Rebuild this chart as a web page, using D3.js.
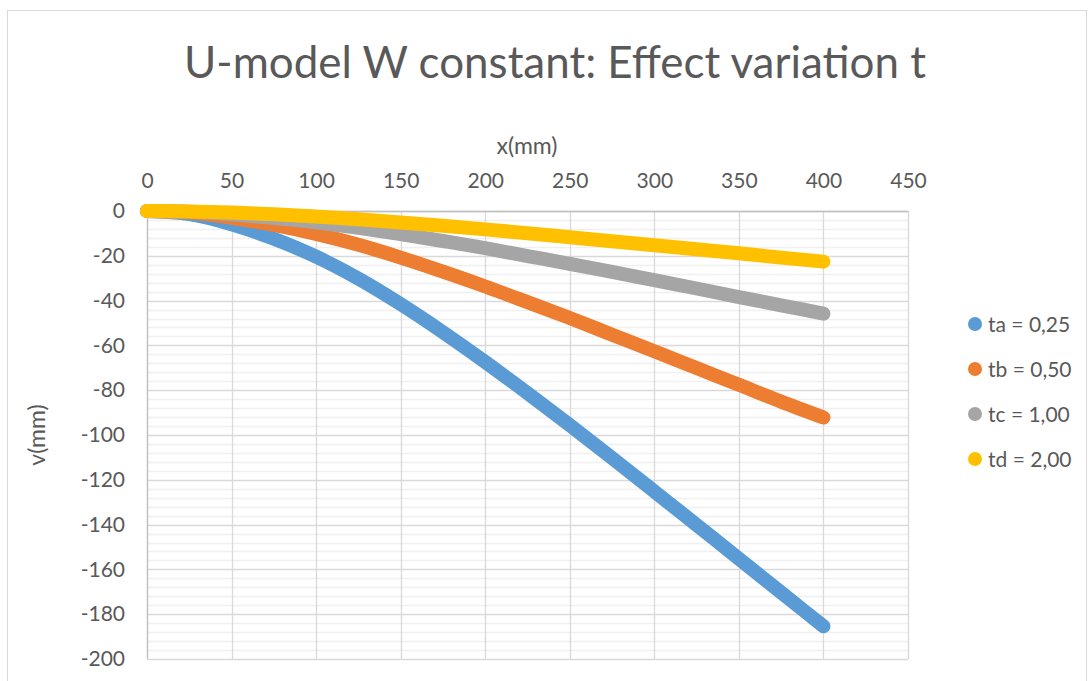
<!DOCTYPE html>
<html>
<head>
<meta charset="utf-8">
<script src="https://cdn.jsdelivr.net/npm/d3@7"></script>
<style>
  html, body { margin: 0; padding: 0; background: #ffffff; }
  svg { display: block; font-family: Lato, "Open Sans", sans-serif; }
</style>
</head>
<body>
<svg id="chart" width="1088" height="681"></svg>
<script>
// Deflection v along the member for four thickness values
const xValues = [0, 25, 50, 75, 100, 125, 150, 175, 200, 225, 250, 275, 300, 325, 350, 375, 400];
const taValues = [0, -1.4, -5.9, -12.4, -20.4, -30.2, -41.6, -54.1, -67.4, -81.3, -95.6, -110.3, -125.2, -140.2, -155.2, -170.3, -185.4];
const tbValues = [0, -0.7, -3.0, -6.2, -10.2, -15.1, -20.8, -27.1, -33.7, -40.7, -47.8, -55.2, -62.6, -70.1, -77.6, -85.1, -92.2];
const tcValues = [0, -0.3, -1.5, -3.1, -5.0, -7.5, -10.3, -13.4, -16.6, -20.1, -23.6, -27.2, -30.9, -34.6, -38.4, -42.1, -45.8];
const tdValues = [0, -0.2, -0.7, -1.5, -2.5, -3.7, -5.1, -6.6, -8.2, -9.9, -11.7, -13.5, -15.3, -17.1, -18.9, -20.8, -22.6];
const seriesNames = ["ta = 0,25", "tb = 0,50", "tc = 1,00", "td = 2,00"];
const seriesColors = ["#5B9BD5", "#ED7D31", "#A5A5A5", "#FFC000"];
const xTicks = [0, 50, 100, 150, 200, 250, 300, 350, 400, 450];
const yTicks = [0, -20, -40, -60, -80, -100, -120, -140, -160, -180, -200];
const titleText = "U-model W constant: Effect variation t";
const xTitle = "x(mm)";
const yTitle = "v(mm)";

const seriesValues = [taValues, tbValues, tcValues, tdValues];
const series = seriesNames.map((name, i) => ({
  name,
  color: seriesColors[i],
  points: xValues.map((x, j) => ({ x, v: seriesValues[i][j] }))
}));

const svg = d3.select("#chart");
const textColor = "#595959";

// chart frame
svg.append("rect")
  .attr("x", 7.5).attr("y", 10.5)
  .attr("width", 1079).attr("height", 700)
  .attr("fill", "#ffffff")
  .attr("stroke", "#d9d9d9").attr("stroke-width", 1);

const plot = { left: 147, right: 908, top: 211, bottom: 659 };
const x = d3.scaleLinear().domain([0, 450]).range([plot.left, plot.right]);
const y = d3.scaleLinear().domain([0, -200]).range([plot.top, plot.bottom]);

// minor horizontal gridlines every 4
const minorY = d3.range(0, -201, -4).filter(v => v % 20 !== 0);
svg.append("g").selectAll("line").data(minorY).join("line")
  .attr("x1", plot.left).attr("x2", plot.right)
  .attr("y1", d => Math.round(y(d)) + 0.5).attr("y2", d => Math.round(y(d)) + 0.5)
  .attr("stroke", "#f0f0f0").attr("stroke-width", 1.3);

// major gridlines
svg.append("g").selectAll("line").data(yTicks).join("line")
  .attr("x1", plot.left).attr("x2", plot.right)
  .attr("y1", d => Math.round(y(d)) + 0.5).attr("y2", d => Math.round(y(d)) + 0.5)
  .attr("stroke", "#d9d9d9").attr("stroke-width", 1.3);
svg.append("g").selectAll("line").data(xTicks).join("line")
  .attr("y1", plot.top).attr("y2", plot.bottom)
  .attr("x1", d => Math.round(x(d)) + 0.5).attr("x2", d => Math.round(x(d)) + 0.5)
  .attr("stroke", "#d9d9d9").attr("stroke-width", 1.3);

// axis lines (x axis sits at v = 0, y axis at x = 0)
svg.append("line")
  .attr("x1", plot.left).attr("x2", plot.right)
  .attr("y1", Math.round(y(0)) + 0.5).attr("y2", Math.round(y(0)) + 0.5)
  .attr("stroke", "#bfbfbf").attr("stroke-width", 1.3);
svg.append("line")
  .attr("y1", plot.top).attr("y2", plot.bottom)
  .attr("x1", Math.round(x(0)) + 0.5).attr("x2", Math.round(x(0)) + 0.5)
  .attr("stroke", "#bfbfbf").attr("stroke-width", 1.3);

// tick labels
const xAxis = d3.axisTop(x).tickValues(xTicks).tickSize(0).tickPadding(23);
const gx = svg.append("g").attr("transform", `translate(0,${plot.top})`).call(xAxis);
gx.select(".domain").remove();
gx.selectAll("text").attr("fill", textColor)
  .style("font-family", "Lato, 'Open Sans', sans-serif").style("font-size", "21px");

const yAxis = d3.axisLeft(y).tickValues(yTicks).tickSize(0).tickPadding(22)
  .tickFormat(d => d < 0 ? "-" + Math.abs(d) : String(d));
const gy = svg.append("g").attr("transform", `translate(${plot.left},0)`).call(yAxis);
gy.select(".domain").remove();
gy.selectAll("text").attr("fill", textColor)
  .style("font-family", "Lato, 'Open Sans', sans-serif").style("font-size", "21px");

// series: densely marked scatter drawn as thick rounded lines
const line = d3.line().x(d => x(d.x)).y(d => y(d.v)).curve(d3.curveMonotoneX);
svg.append("g").selectAll("path").data(series).join("path")
  .attr("d", d => line(d.points))
  .attr("fill", "none")
  .attr("stroke", d => d.color)
  .attr("stroke-width", 14)
  .attr("stroke-linecap", "round")
  .attr("stroke-linejoin", "round");

// titles
const title = svg.append("text")
  .attr("x", 555).attr("y", 78)
  .attr("text-anchor", "middle")
  .attr("fill", textColor)
  .style("font-size", "42px")
  .text(titleText);
const tw = title.node().getComputedTextLength();
title.style("font-size", (42 * 742 / tw).toFixed(2) + "px");

svg.append("text")
  .attr("x", 527).attr("y", 154)
  .attr("text-anchor", "middle")
  .attr("fill", textColor)
  .style("font-size", "23px")
  .text(xTitle);

svg.append("text")
  .attr("transform", `translate(45,${(plot.top + plot.bottom) / 2}) rotate(-90)`)
  .attr("text-anchor", "middle")
  .attr("fill", textColor)
  .style("font-size", "23px")
  .text(yTitle);

// legend
const legend = svg.append("g").attr("transform", "translate(975,324)");
const item = legend.selectAll("g").data(series).join("g")
  .attr("transform", (d, i) => `translate(0,${i * 45})`);
item.append("circle").attr("r", 7).attr("fill", d => d.color);
item.append("text")
  .attr("x", 13).attr("y", 7.5)
  .attr("fill", textColor)
  .style("font-size", "21px")
  .text(d => d.name);
</script>
</body>
</html>
